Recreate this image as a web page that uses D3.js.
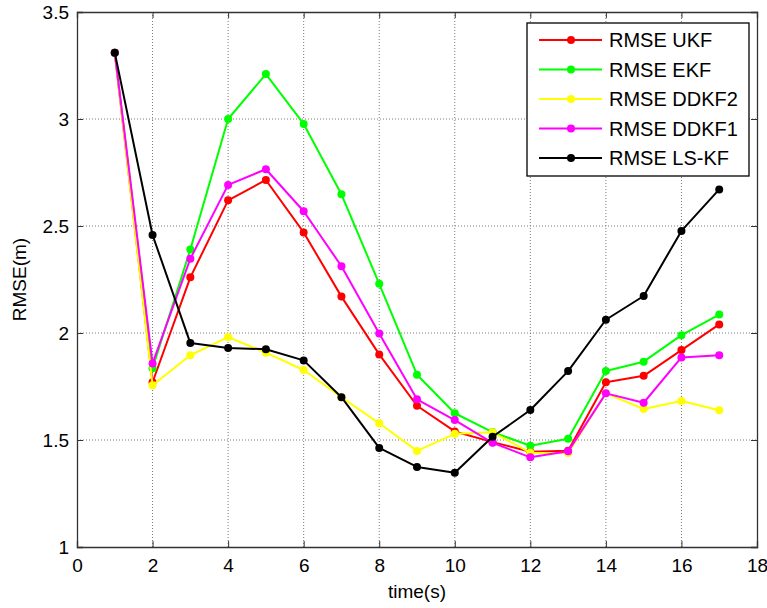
<!DOCTYPE html>
<html>
<head>
<meta charset="utf-8">
<script src="https://cdn.jsdelivr.net/npm/d3@7"></script>
<style>
  body { margin:0; background:#fff; }
  text { font-family: "Liberation Sans", Arial, sans-serif; fill:#000; }
  .grid line { stroke:#7a7a7a; stroke-width:1; stroke-dasharray:1,2; }
</style>
</head>
<body>
<script>
const time = [1,2,3,4,5,6,7,8,9,10,11,12,13,14,15,16,17]
const ukf   = [3.31,1.77,2.26,2.62,2.715,2.47,2.17,1.90,1.66,1.54,1.49,1.445,1.45,1.77,1.80,1.92,2.04]
const ekf   = [3.31,1.835,2.39,3.00,3.21,2.977,2.648,2.23,1.805,1.625,1.537,1.473,1.506,1.822,1.866,1.99,2.086]
const ddkf2 = [3.31,1.756,1.896,1.981,1.908,1.827,1.70,1.578,1.449,1.529,1.536,1.441,1.439,1.718,1.645,1.682,1.639]
const ddkf1 = [3.31,1.858,2.347,2.692,2.765,2.569,2.312,1.998,1.69,1.593,1.487,1.419,1.447,1.718,1.674,1.886,1.896]
const lskf  = [3.31,2.458,1.953,1.93,1.924,1.872,1.70,1.463,1.374,1.347,1.515,1.64,1.822,2.062,2.173,2.477,2.671]
const seriesNames = ['RMSE UKF','RMSE EKF','RMSE DDKF2','RMSE DDKF1','RMSE LS-KF']
const seriesColors = ['#ff0000','#00ff00','#ffff00','#ff00ff','#000000']
const xTicks = [0,2,4,6,8,10,12,14,16,18]
const yTicks = [1,1.5,2,2.5,3,3.5]

const series = [ukf,ekf,ddkf2,ddkf1,lskf].map((vals,i) => ({name:seriesNames[i],color:seriesColors[i],vals}))

const W = 767, H = 608
const m = {left:77, top:12, right:10, bottom:61}
const svg = d3.select('body').append('svg').attr('width',W).attr('height',H)

const x = d3.scaleLinear().domain([0,18]).range([m.left, W-m.right])
const y = d3.scaleLinear().domain([1,3.5]).range([H-m.bottom, m.top])

// grid
const $grid = svg.append('g').classed('grid',true)
$grid.selectAll('line.v').data(xTicks.slice(1,-1)).enter().append('line')
  .attr('x1',d => x(d)).attr('x2',d => x(d)).attr('y1',y(1)).attr('y2',y(3.5))
$grid.selectAll('line.h').data(yTicks.slice(1,-1)).enter().append('line')
  .attr('y1',d => y(d)).attr('y2',d => y(d)).attr('x1',x(0)).attr('x2',x(18))

// axes
const fs = 19
svg.append('g').attr('transform',`translate(0,${y(1)})`)
  .call(d3.axisBottom(x).tickValues(xTicks).tickSize(-6).tickPadding(12).tickFormat(d3.format('d')))
svg.append('g').attr('transform',`translate(${x(0)},0)`)
  .call(d3.axisLeft(y).tickValues(yTicks).tickSize(-6).tickPadding(8).tickFormat(d => d))
svg.append('g').attr('transform',`translate(0,${y(3.5)})`)
  .call(d3.axisTop(x).tickValues(xTicks).tickSize(-6).tickFormat(''))
svg.append('g').attr('transform',`translate(${x(18)},0)`)
  .call(d3.axisRight(y).tickValues(yTicks).tickSize(-6).tickFormat(''))
svg.selectAll('.domain').attr('stroke','#333').attr('stroke-width',1.3)
svg.selectAll('.tick line').attr('stroke','#333')
svg.selectAll('.tick text').style('font-size',fs+'px').style('font-family','"Liberation Sans", Arial, sans-serif')

svg.append('text').attr('x',x(9)).attr('y',598).attr('text-anchor','middle')
  .style('font-size',fs+'px').text('time(s)')
svg.append('text').attr('transform',`translate(26,${y(2.25)}) rotate(-90)`).attr('text-anchor','middle')
  .style('font-size',fs+'px').text('RMSE(m)')

// lines
const line = d3.line().x((d,i) => x(time[i])).y(d => y(d))
const $series = svg.append('g').selectAll('g').data(series).enter().append('g')
$series.append('path')
  .attr('d',s => line(s.vals)).attr('fill','none')
  .attr('stroke',s => s.color).attr('stroke-width',2).attr('stroke-linejoin','round')
$series.each(function(s){
  d3.select(this).selectAll('circle').data(s.vals).enter().append('circle')
    .attr('cx',(d,i) => x(time[i])).attr('cy',d => y(d)).attr('r',4).attr('fill',s.color)
})

// legend
const lg = svg.append('g').attr('transform','translate(527,23)')
lg.append('rect').attr('width',222).attr('height',153).attr('fill','#fff').attr('stroke','#000').attr('stroke-width',1.3)
const items = lg.selectAll('g').data(series).enter().append('g')
  .attr('transform',(d,i) => `translate(0,${17+i*29.5})`)
items.append('line').attr('x1',12).attr('x2',75).attr('stroke',d => d.color).attr('stroke-width',2)
items.append('circle').attr('cx',44).attr('r',4).attr('fill',d => d.color)
items.append('text').attr('x',82).attr('dy','0.35em').style('font-size','20px').text(d => d.name)
</script>
</body>
</html>
